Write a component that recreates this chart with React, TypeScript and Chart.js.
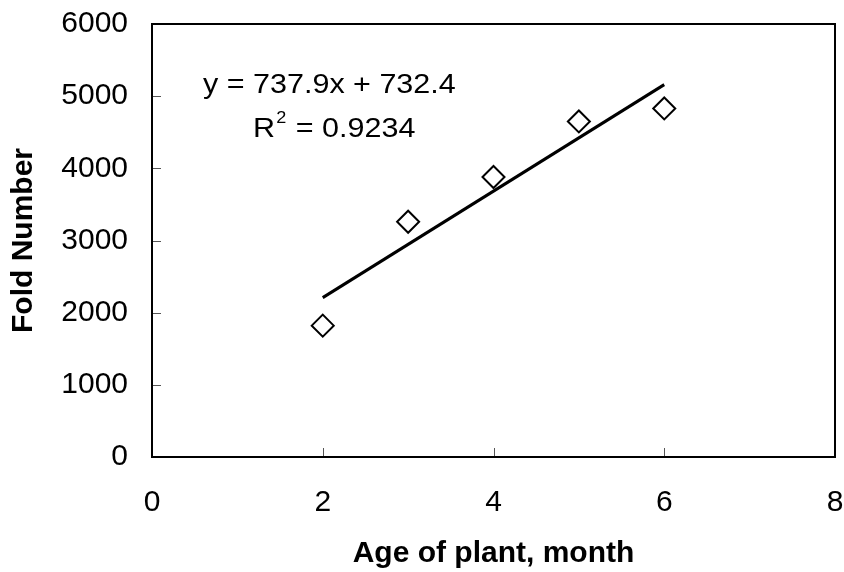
import React, { useEffect, useRef } from "react";
import { Chart, registerables } from "chart.js";

Chart.register(...registerables);

const ages = [2, 3, 4, 5, 6];
const foldNumbers = [1820, 3260, 3880, 4650, 4830];
const slope = 737.9;
const intercept = 732.4;
const rSquared = "0.9234";
const trendX = [2, 6];
const xTitle = "Age of plant, month";
const yTitle = "Fold Number";

const FONT = "'Liberation Sans', Arial, sans-serif";

const framePlugin = {
  id: "frame",
  afterDraw(chart: any) {
    const { ctx, chartArea: a, scales } = chart;
    ctx.save();
    // inward ticks
    ctx.strokeStyle = "#555";
    ctx.lineWidth = 1;
    scales.y.ticks.forEach((t: any) => {
      const py = Math.round(scales.y.getPixelForValue(t.value)) + 0.5;
      if (t.value <= scales.y.min || t.value >= scales.y.max) return;
      ctx.beginPath();
      ctx.moveTo(a.left, py);
      ctx.lineTo(a.left + 9, py);
      ctx.stroke();
    });
    scales.x.ticks.forEach((t: any) => {
      const px = Math.round(scales.x.getPixelForValue(t.value)) + 0.5;
      if (t.value <= scales.x.min || t.value >= scales.x.max) return;
      ctx.beginPath();
      ctx.moveTo(px, a.bottom);
      ctx.lineTo(px, a.bottom - 9);
      ctx.stroke();
    });
    // box
    ctx.strokeStyle = "#000";
    ctx.lineWidth = 2;
    ctx.strokeRect(a.left, a.top, a.right - a.left, a.bottom - a.top);

    // equation annotation
    const sx = 1.13;
    ctx.fillStyle = "#000";
    ctx.textBaseline = "alphabetic";
    ctx.textAlign = "left";
    ctx.font = `27px ${FONT}`;
    const eq = `y = ${slope}x + ${intercept}`;
    ctx.save();
    ctx.translate(a.left + 51, 93);
    ctx.scale(sx, 1);
    ctx.fillText(eq, 0, 0);
    ctx.restore();

    ctx.save();
    ctx.translate(a.left + 101, 137);
    ctx.scale(sx, 1);
    ctx.fillText("R", 0, 0);
    const w = ctx.measureText("R").width;
    ctx.font = `16px ${FONT}`;
    ctx.fillText("2", w + 1, -14);
    const w2 = ctx.measureText("2").width;
    ctx.font = `27px ${FONT}`;
    ctx.fillText(` = ${rSquared}`, w + w2 + 2, 0);
    ctx.restore();
    ctx.restore();
  },
};

function noPad(scale: any) {
  scale.paddingTop = 0;
  scale.paddingBottom = 0;
  scale.paddingLeft = 0;
  scale.paddingRight = 0;
}

export default function App() {
  const ref = useRef<HTMLCanvasElement>(null);
  useEffect(() => {
    if (!ref.current) return;
    const points = ages.map((x, i) => ({ x, y: foldNumbers[i] }));
    const trend = trendX.map((x) => ({ x, y: slope * x + intercept }));
    const chart = new Chart(ref.current, {
      type: "scatter",
      data: {
        datasets: [
          {
            type: "line",
            data: trend,
            borderColor: "#000",
            borderWidth: 3,
            pointRadius: 0,
            fill: false,
          } as any,
          {
            data: points,
            pointStyle: "rectRot",
            pointRadius: 11,
            pointHoverRadius: 11,
            pointBorderWidth: 2,
            pointBackgroundColor: "#fff",
            pointBorderColor: "#000",
          },
        ],
      },
      options: {
        animation: false,
        responsive: false,
        events: [],
        layout: { autoPadding: false, padding: { top: 24, right: 9, left: 0, bottom: 0 } },
        plugins: { legend: { display: false }, tooltip: { enabled: false } },
        scales: {
          x: {
            type: "linear",
            min: 0,
            max: 8,
            grid: { display: false, drawTicks: false },
            border: { display: false },
            ticks: {
              stepSize: 2,
              color: "#000",
              padding: 28,
              font: { family: FONT, size: 30 },
              callback: (v: any) => String(v),
            },
            title: {
              display: true,
              text: xTitle,
              color: "#000",
              padding: { top: 0, bottom: 0 },
              font: { family: FONT, size: 30, weight: "bold" },
            },
            afterFit(scale: any) {
              scale.height = 115;
              noPad(scale);
            },
          },
          y: {
            min: 0,
            max: 6000,
            grid: { display: false, drawTicks: false },
            border: { display: false },
            ticks: {
              stepSize: 1000,
              color: "#000",
              padding: 24,
              font: { family: FONT, size: 30 },
              callback: (v: any) => String(v),
            },
            title: {
              display: true,
              text: yTitle,
              color: "#000",
              padding: { top: 6, bottom: 0 },
              font: { family: FONT, size: 30, weight: "bold" },
            },
            afterFit(scale: any) {
              scale.width = 152;
              noPad(scale);
            },
          },
        },
      },
      plugins: [framePlugin],
    });
    return () => chart.destroy();
  }, []);
  return (
    <div style={{ position: "fixed", left: 0, top: 0, width: 844, height: 572, background: "#fff" }}>
      <canvas ref={ref} width={844} height={572} style={{ width: 844, height: 572 }} />
    </div>
  );
}
